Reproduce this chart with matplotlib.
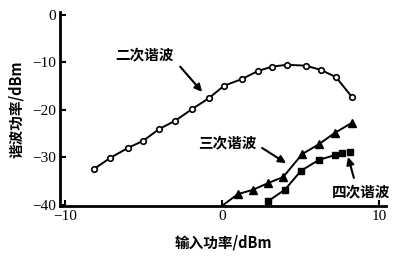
import matplotlib
matplotlib.use("Agg")
import matplotlib.pyplot as plt

plt.rcParams['font.family'] = ['Noto Sans CJK SC', 'DejaVu Sans']

# Data
x2 = [-8.15, -7.13, -6.0, -5.03, -4.0, -3.0, -1.9, -0.83, 0.13, 1.27, 2.29, 3.18, 4.14, 5.35, 6.31, 7.26, 8.28]
y2 = [-32.4, -30.1, -28.0, -26.5, -24.0, -22.3, -19.8, -17.5, -14.9, -13.5, -11.8, -10.9, -10.5, -10.7, -11.6, -13.1, -17.3]

x3 = [-0.1, 1.02, 1.97, 2.93, 3.9, 5.1, 6.18, 7.2, 8.28]
y3 = [-40.4, -37.7, -36.8, -35.4, -34.1, -29.3, -27.2, -24.8, -22.7]

x4 = [2.93, 4.0, 5.03, 6.18, 7.2, 7.64]
y4 = [-39.2, -36.8, -32.8, -30.5, -29.5, -29.1]
x4_extra = [8.15]
y4_extra = [-28.8]

xticks = [-10, 0, 10]
yticks = [0, -10, -20, -30, -40]

fig = plt.figure(figsize=(4.12, 2.61), dpi=100)
ax = fig.add_axes([0.146, 0.211, 0.791, 0.743])

ax.plot(x2, y2, color='black', lw=1.4, marker='o', markersize=4,
        markerfacecolor='white', markeredgecolor='black', markeredgewidth=1.2)
ax.plot(x3, y3, color='black', lw=1.4, marker='^', markersize=6,
        markerfacecolor='black', markevery=list(range(1, len(x3))))
ax.plot(x4, y4, color='black', lw=1.4, marker='s', markersize=4.5,
        markerfacecolor='black')
ax.plot(x4_extra, y4_extra, linestyle='none', marker='s', markersize=5,
        color='black')

ax.set_xlim(-10.32, 10.45)
ax.set_ylim(-40.2, 0.6)
ax.set_xticks(xticks)
ax.set_yticks(yticks)
ax.set_xticklabels([str(v).replace('-', '\u2212') for v in xticks],
                   family='Liberation Serif', fontsize=11)
ax.set_yticklabels([str(v).replace('-', '\u2212') for v in yticks],
                   family='Liberation Serif', fontsize=11)
for s in ['top', 'right']:
    ax.spines[s].set_visible(False)
for s in ['left', 'bottom']:
    ax.spines[s].set_linewidth(2.0)
ax.tick_params(direction='in', length=4, width=1.5, pad=3)

ax.set_xlabel('输入功率/dBm', fontsize=10.5, fontweight='bold', labelpad=8)
ax.set_ylabel('谐波功率/dBm', fontsize=10.5, fontweight='bold', labelpad=6)

arrow = dict(arrowstyle='-|>', lw=1.5, color='black', mutation_scale=11,
             shrinkA=0, shrinkB=0)
ax.annotate('二次谐波', xy=(-4.97, -8.4), ha='center', va='center',
            fontsize=10.5, fontweight='bold')
ax.annotate('', xy=(-1.27, -16.2), xytext=(-2.67, -10.9), arrowprops=arrow)
ax.annotate('三次谐波', xy=(0.32, -26.9), ha='center', va='center',
            fontsize=10.5, fontweight='bold')
ax.annotate('', xy=(4.08, -31.2), xytext=(2.55, -28.0), arrowprops=arrow)
ax.annotate('四次谐波', xy=(8.85, -37.1), ha='center', va='center',
            fontsize=10.5, fontweight='bold', annotation_clip=False)
ax.annotate('', xy=(8.03, -29.9), xytext=(8.4, -34.3), arrowprops=arrow)

fig.savefig('out.png', dpi=100)
